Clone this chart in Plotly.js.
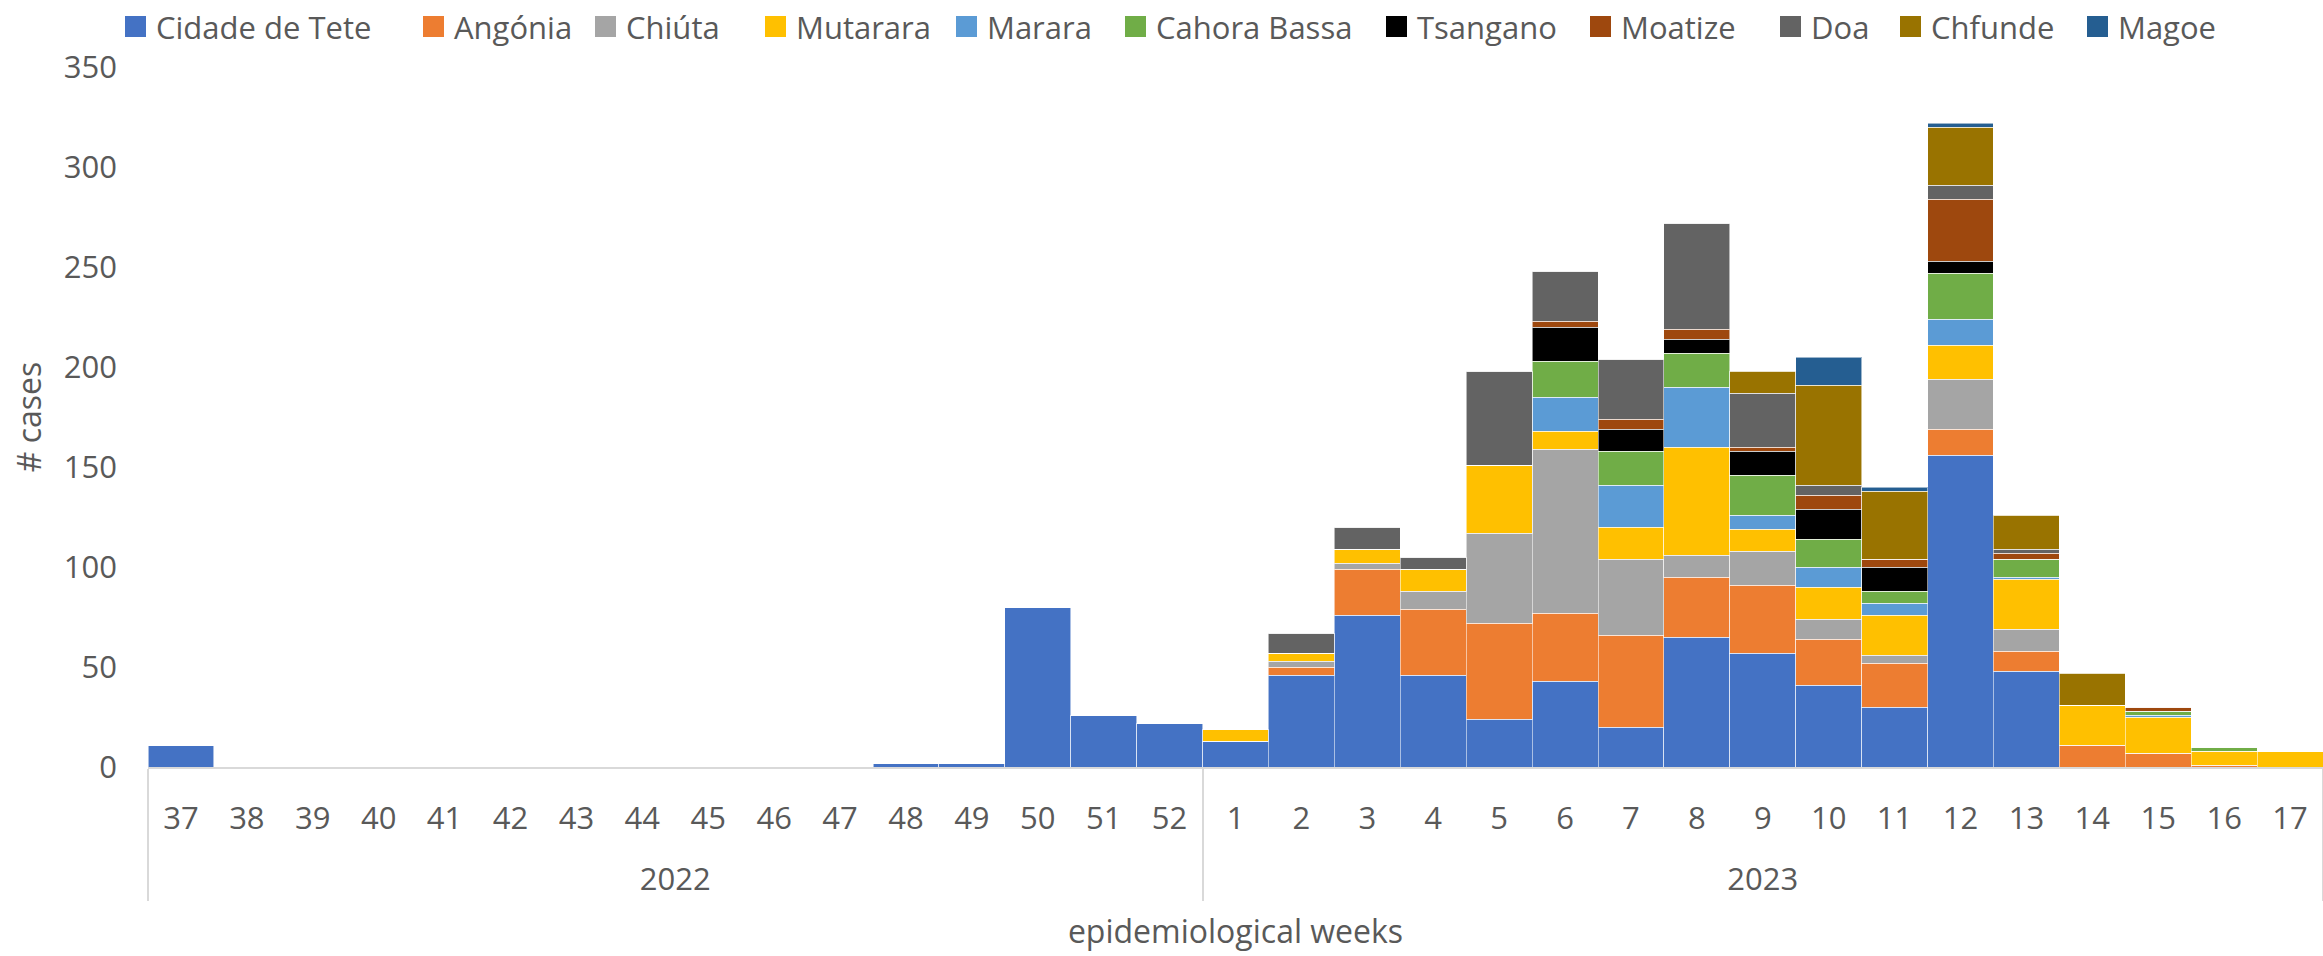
<!DOCTYPE html>
<html>
<head>
<meta charset="utf-8">
<script src="https://cdn.plot.ly/plotly-3.0.1.min.js"></script>
<style>html,body{margin:0;padding:0;background:#fff;}#chart{width:2323px;height:956px;}</style>
</head>
<body>
<div id="chart"></div>
<script>
// ---- data ----
const years = ["2022","2022","2022","2022","2022","2022","2022","2022","2022","2022","2022","2022","2022","2022","2022","2022",
               "2023","2023","2023","2023","2023","2023","2023","2023","2023","2023","2023","2023","2023","2023","2023","2023","2023"];
const weeks = ["37","38","39","40","41","42","43","44","45","46","47","48","49","50","51","52",
               "1","2","3","4","5","6","7","8","9","10","11","12","13","14","15","16","17"];

const cidadeDeTete = [11,0,0,0,0,0,0,0,0,0,0,2,2,80,26,22, 13,46,76,46,24,43,20,65,57,41,30,156,48,0,0,0,0];
const angonia      = [0,0,0,0,0,0,0,0,0,0,0,0,0,0,0,0,    0,4,23,33,48,34,46,30,34,23,22,13,10,11,7,1,0];
const chiuta       = [0,0,0,0,0,0,0,0,0,0,0,0,0,0,0,0,    0,3,3,9,45,82,38,11,17,10,4,25,11,0,0,0,0];
const mutarara     = [0,0,0,0,0,0,0,0,0,0,0,0,0,0,0,0,    6,4,7,11,34,9,16,54,11,16,20,17,25,20,18,7,8];
const marara       = [0,0,0,0,0,0,0,0,0,0,0,0,0,0,0,0,    0,0,0,0,0,17,21,30,7,10,6,13,1,0,1,0,0];
const cahoraBassa  = [0,0,0,0,0,0,0,0,0,0,0,0,0,0,0,0,    0,0,0,0,0,18,17,17,20,14,6,23,9,0,2,2,0];
const tsangano     = [0,0,0,0,0,0,0,0,0,0,0,0,0,0,0,0,    0,0,0,0,0,17,11,7,12,15,12,6,0,0,0,0,0];
const moatize      = [0,0,0,0,0,0,0,0,0,0,0,0,0,0,0,0,    0,0,0,0,0,3,5,5,2,7,4,31,3,0,2,0,0];
const doa          = [0,0,0,0,0,0,0,0,0,0,0,0,0,0,0,0,    0,10,11,6,47,25,30,53,27,5,0,7,2,0,0,0,0];
const chfunde      = [0,0,0,0,0,0,0,0,0,0,0,0,0,0,0,0,    0,0,0,0,0,0,0,0,11,50,34,29,17,16,0,0,0];
const magoe        = [0,0,0,0,0,0,0,0,0,0,0,0,0,0,0,0,    0,0,0,0,0,0,0,0,0,14,2,2,0,0,0,0,0];

const seriesNames = ["Cidade de Tete","Angónia","Chiúta","Mutarara","Marara","Cahora Bassa","Tsangano","Moatize","Doa","Chfunde","Magoe"];
const seriesValues = [cidadeDeTete, angonia, chiuta, mutarara, marara, cahoraBassa, tsangano, moatize, doa, chfunde, magoe];
const seriesColors = ["#4472C4","#ED7D31","#A5A5A5","#FFC000","#5B9BD5","#70AD47","#000000","#9E480E","#636363","#997300","#255E91"];

const yTicks = [0,50,100,150,200,250,300,350];

// ---- layout helpers (pixel -> paper) ----
const W = 2323, H = 956;
const ML = 148, MR = 0, MT = 67, MB = 189;
const PW = W - ML - MR, PH = H - MT - MB;
const px = x => (x - ML) / PW;
const py = y => (H - MB - y) / PH;

const FONT = "Open Sans, Noto Sans, DejaVu Sans, sans-serif";
const TXT = "#595959";

// week labels get an empty second line so the year row sits lower, as in the reference
const weekLabels = weeks.map(w => w + "<br>\u00a0");

const traces = seriesNames.map((name, i) => ({
  type: "bar",
  name: name,
  x: [years, weekLabels],
  y: seriesValues[i],
  marker: { color: seriesColors[i], line: { color: "rgba(255,255,255,0.55)", width: 1 } },
  showlegend: false,
  hoverinfo: "name+y"
}));

// custom legend (square + label), matching reference placement
const legendX = [125, 423, 595, 765, 956, 1125, 1386, 1590, 1780, 1900, 2087];
const shapes = [];
const annotations = [];
seriesNames.forEach((name, i) => {
  shapes.push({
    type: "rect", xref: "paper", yref: "paper",
    x0: px(legendX[i]), x1: px(legendX[i] + 21),
    y0: py(37), y1: py(16),
    fillcolor: seriesColors[i], line: { width: 0 }
  });
  annotations.push({
    xref: "paper", yref: "paper",
    x: px(legendX[i] + 29), y: py(27),
    xanchor: "left", yanchor: "middle",
    text: name, showarrow: false,
    font: { family: FONT, size: 31, color: TXT }
  });
});

const layout = {
  width: W, height: H,
  margin: { l: ML, r: MR, t: MT, b: MB, pad: 0 },
  paper_bgcolor: "#ffffff",
  plot_bgcolor: "#ffffff",
  barmode: "stack",
  bargap: 0,
  font: { family: FONT, color: TXT },
  showlegend: false,
  xaxis: {
    type: "multicategory",
    showline: true, linecolor: "#d9d9d9", linewidth: 2,
    showgrid: false, zeroline: false,
    ticks: "",
    showdividers: true, dividercolor: "#d9d9d9", dividerwidth: 2,
    tickfont: { family: FONT, size: 31, color: TXT },
    ticklabelstandoff: 23,
    title: { text: "epidemiological weeks", font: { family: FONT, size: 32, color: TXT }, standoff: 22 },
    automargin: false
  },
  yaxis: {
    range: [0, 350],
    tickvals: yTicks,
    ticktext: yTicks.map(String),
    showgrid: false, zeroline: false, showline: false,
    ticks: "",
    ticklabelstandoff: 30,
    tickfont: { family: FONT, size: 31, color: TXT },
    title: { text: "# cases", font: { family: FONT, size: 32, color: TXT }, standoff: 12 },
    automargin: false
  },
  shapes: shapes,
  annotations: annotations
};

Plotly.newPlot("chart", traces, layout, { staticPlot: true, displayModeBar: false });
</script>
</body>
</html>
